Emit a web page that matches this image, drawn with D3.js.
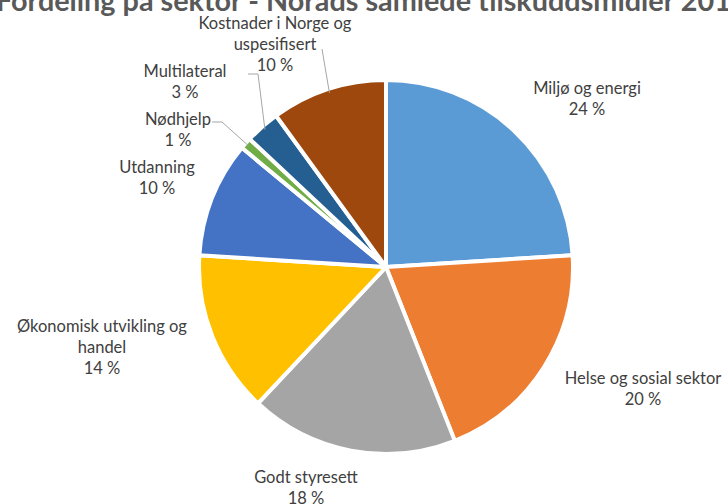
<!DOCTYPE html>
<html>
<head>
<meta charset="utf-8">
<script src="https://cdn.jsdelivr.net/npm/d3@7"></script>
<style>
  body { margin: 0; background: #fff; }
  svg { display: block; }
</style>
</head>
<body>
<div class="chart"></div>
<script>
// data
var sectors = ["Miljø og energi", "Helse og sosial sektor", "Godt styresett",
  "Økonomisk utvikling og handel", "Utdanning", "Nødhjelp", "Multilateral",
  "Kostnader i Norge og uspesifisert"];
var shares = [24, 20, 18, 14, 10, 1, 3, 10];
var colors = ["#5B9BD5", "#ED7D31", "#A5A5A5", "#FFC000", "#4472C4", "#70AD47", "#255E91", "#9E480E"];
// label lines as Excel wrapped them
var labelLines = [
  ["Miljø og energi"],
  ["Helse og sosial sektor"],
  ["Godt styresett"],
  ["Økonomisk utvikling og", "handel"],
  ["Utdanning"],
  ["Nødhjelp"],
  ["Multilateral"],
  ["Kostnader i Norge og", "uspesifisert"]
];
// label centres (x, y of first line)
var labelPos = [[587, 88], [643, 378], [306, 477], [102, 326], [157, 167], [178, 119], [185, 71], [275, 23]];

var width = 728, height = 504;
var cx = 386, cy = 267, radius = 187;

var svg = d3.select(".chart")
  .append("svg")
    .attr("width", width)
    .attr("height", height);

svg.append("text")
  .attr("x", -4)
  .attr("y", 11)
  .attr("fill", "#595959")
  .style("font-family", "Lato")
  .style("font-weight", "bold")
  .style("font-size", "28.8px")
  .text("Fordeling på sektor - Norads samlede tilskuddsmidler 2016");

var pie = d3.pie().sort(null).value(function(d) { return d; });
var arc = d3.arc().innerRadius(0).outerRadius(radius);
var arcs = pie(shares);
var total = d3.sum(shares);

var g = svg.append("g").attr("transform", "translate(" + cx + "," + cy + ")");

g.selectAll("path")
  .data(arcs)
  .enter().append("path")
    .attr("d", arc)
    .attr("fill", function(d, i) { return colors[i]; })
    .attr("stroke", "#fff")
    .attr("stroke-width", 4)
    .attr("stroke-linejoin", "round");

// leader lines for the small top-left slices
var leaders = [
  { i: 5, pts: [[212, 122], [222, 122]] },
  { i: 6, pts: [[248, 74], [258, 74]] },
  { i: 7, pts: [[322, 49]] }
];
leaders.forEach(function(l) {
  var a = arcs[l.i];
  var mid = (a.startAngle + a.endAngle) / 2;
  var end = [cx + Math.sin(mid) * (radius - 4), cy - Math.cos(mid) * (radius - 4)];
  svg.append("path")
    .attr("d", d3.line()(l.pts.concat([end])))
    .attr("fill", "none")
    .attr("stroke", "#A6A6A6")
    .attr("stroke-width", 1);
});

labelPos.forEach(function(p, i) {
  var lines = labelLines[i].concat([Math.round(shares[i] / total * 100) + " %"]);
  var t = svg.append("text")
    .attr("text-anchor", "middle")
    .attr("fill", "#404040")
    .style("font-family", "Lato")
    .style("font-size", "16.5px");
  lines.forEach(function(s, k) {
    t.append("tspan")
      .attr("x", p[0])
      .attr("y", p[1] + 6 + k * 21)
      .text(s);
  });
});
</script>
</body>
</html>
